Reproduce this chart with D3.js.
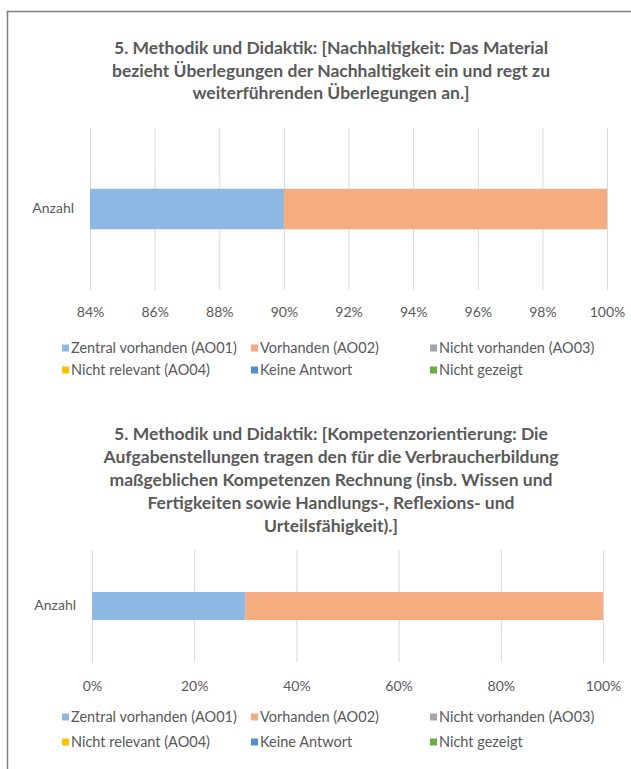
<!DOCTYPE html>
<html>
<head>
<meta charset="utf-8">
<script src="https://cdn.jsdelivr.net/npm/d3@7"></script>
<style>
  body { margin: 0; background: #fff; }
  svg { display: block; font-family: Lato, "Open Sans", sans-serif; }
</style>
</head>
<body>
<svg id="chart" width="631" height="769"></svg>
<script>
// data
const categories = ["Anzahl"];
const seriesNames = ["Zentral vorhanden (AO01)", "Vorhanden (AO02)", "Nicht vorhanden (AO03)",
    "Nicht relevant (AO04)", "Keine Antwort", "Nicht gezeigt"];

const title1 = ["5. Methodik und Didaktik: [Nachhaltigkeit: Das Material",
    "bezieht Überlegungen der Nachhaltigkeit ein und regt zu",
    "weiterführenden Überlegungen an.]"];
const values1 = [90, 10, 0, 0, 0, 0];
const ticks1 = [84, 86, 88, 90, 92, 94, 96, 98, 100];

const title2 = ["5. Methodik und Didaktik: [Kompetenzorientierung: Die",
    "Aufgabenstellungen tragen den für die Verbraucherbildung",
    "maßgeblichen Kompetenzen Rechnung (insb. Wissen und",
    "Fertigkeiten sowie Handlungs-, Reflexions- und",
    "Urteilsfähigkeit).]"];
const values2 = [30, 70, 0, 0, 0, 0];
const ticks2 = [0, 20, 40, 60, 80, 100];

const color = d3.scaleOrdinal()
    .domain(seriesNames)
    .range(["#8cb9e3", "#f4ac80", "#a5a5a5", "#ffc000", "#4f8fd0", "#6aac46"]);

const svg = d3.select("#chart");

// outer frame (only top and left edge show in the picture)
svg.append("path")
    .attr("d", "M7.5,769 L7.5,11.5 L631,11.5")
    .attr("fill", "none")
    .attr("stroke", "#7f7f7f")
    .attr("stroke-width", 1.5);

function drawChart(cfg) {
    const g = svg.append("g");

    // title
    g.append("g").selectAll("text")
        .data(cfg.title)
        .join("text")
        .attr("x", 331)
        .attr("y", (d, i) => cfg.titleY + i * cfg.titleStep)
        .attr("text-anchor", "middle")
        .attr("dominant-baseline", "middle")
        .attr("font-size", 17.5)
        .attr("font-weight", "bold")
        .attr("fill", "#595959")
        .text(d => d);

    const x = d3.scaleLinear()
        .domain([cfg.ticks[0], cfg.ticks[cfg.ticks.length - 1]])
        .range([cfg.left, cfg.right])
        .clamp(true);

    const y = d3.scaleBand()
        .domain(categories)
        .range([cfg.top, cfg.bottom])
        .padding(0.6);

    // gridlines
    g.append("g")
        .attr("transform", `translate(0,${cfg.bottom})`)
        .call(d3.axisBottom(x).tickValues(cfg.ticks).tickSize(-(cfg.bottom - cfg.top)).tickFormat(""))
        .call(a => a.select(".domain").remove())
        .call(a => a.selectAll("line").attr("stroke", "#d9d9d9"));

    // stacked bar
    const row = {key: categories[0]};
    seriesNames.forEach((s, i) => row[s] = cfg.values[i]);
    const stacked = d3.stack().keys(seriesNames)([row]);

    g.append("g").selectAll("rect")
        .data(stacked)
        .join("rect")
        .attr("x", d => x(d[0][0]))
        .attr("y", y(categories[0]))
        .attr("width", d => x(d[0][1]) - x(d[0][0]))
        .attr("height", y.bandwidth())
        .attr("fill", d => color(d.key));

    // tick labels
    g.append("g")
        .attr("transform", `translate(0,${cfg.labelY})`)
        .call(d3.axisBottom(x).tickValues(cfg.ticks).tickSize(0).tickPadding(0).tickFormat(d => d + "%"))
        .call(a => a.select(".domain").remove())
        .call(a => a.selectAll("text")
            .attr("font-family", "Lato, sans-serif")
            .attr("font-size", 14)
            .attr("fill", "#595959")
            .attr("dy", "0.35em")
            .attr("y", 0));

    // category label
    g.append("g")
        .attr("transform", `translate(${cfg.left},0)`)
        .call(d3.axisLeft(y).tickSize(0).tickPadding(16))
        .call(a => a.select(".domain").remove())
        .call(a => a.selectAll("text")
            .attr("font-family", "Lato, sans-serif")
            .attr("font-size", 14)
            .attr("fill", "#595959"));

    // legend
    const cols = [62, 251, 430];
    const legend = g.append("g").selectAll("g")
        .data(seriesNames)
        .join("g")
        .attr("transform", (d, i) => `translate(${cols[i % 3]},${cfg.legendY + Math.floor(i / 3) * cfg.legendStep})`);
    legend.append("rect")
        .attr("x", 0).attr("y", -3.5)
        .attr("width", 7).attr("height", 7)
        .attr("fill", d => color(d));
    legend.append("text")
        .attr("x", 9)
        .attr("dy", "0.35em")
        .attr("font-size", 14.5)
        .attr("fill", "#595959")
        .text(d => d);
}

drawChart({
    title: title1, titleY: 50, titleStep: 22.5,
    values: values1, ticks: ticks1,
    left: 90, right: 607, top: 128, bottom: 290,
    labelY: 312, legendY: 348, legendStep: 22
});

drawChart({
    title: title2, titleY: 436, titleStep: 23,
    values: values2, ticks: ticks2,
    left: 92, right: 603, top: 550, bottom: 662,
    labelY: 686, legendY: 717, legendStep: 25
});
</script>
</body>
</html>
